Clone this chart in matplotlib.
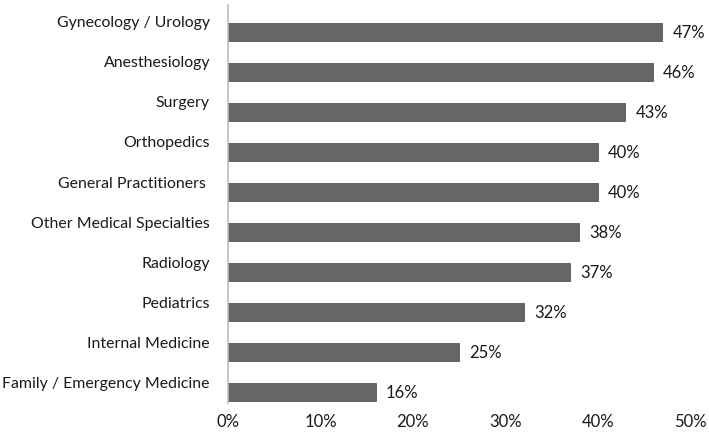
import matplotlib.pyplot as plt
import numpy as np

# categories, top to bottom as shown
categories = ["Gynecology / Urology", "Anesthesiology", "Surgery", "Orthopedics",
              "General Practitioners ", "Other Medical Specialties", "Radiology",
              "Pediatrics", "Internal Medicine", "Family / Emergency Medicine"]
values = [47, 46, 43, 40, 40, 38, 37, 32, 25, 16]
xticks = [0, 10, 20, 30, 40, 50]

plt.rcParams['font.family'] = ['Lato', 'DejaVu Sans']

fig = plt.figure(figsize=(7.09, 4.34), dpi=100)
ax = fig.add_axes([0.3216, 0.0714, 0.6516, 0.9171])

# bottom-up positions so first category ends up on top
pos = np.arange(len(categories))[::-1]
ax.barh(pos, values, height=0.46, color='#666666', edgecolor='#555555', linewidth=0.6)

for p, v in zip(pos, values):
    ax.text(v + 1.1, p - 0.03, f"{v}%", ha='left', va='center', fontsize=12, color='#1a1a1a')

ax.set_xlim(0, 50)
ax.set_ylim(-0.275, 9.675)
ax.set_xticks(xticks)
ax.set_xticklabels([f"{t}%" for t in xticks], fontsize=12, color='#1a1a1a')
ax.set_yticks(pos + 0.25)
ax.set_yticklabels(categories, fontsize=11.4, color='#1a1a1a')
ax.tick_params(axis='y', length=0, pad=13)
ax.tick_params(axis='x', length=0, pad=8)

for s in ['top', 'right', 'bottom']:
    ax.spines[s].set_visible(False)
ax.spines['left'].set_color('#bfbfbf')
ax.spines['left'].set_linewidth(1.2)

fig.savefig('out.png', dpi=100)
